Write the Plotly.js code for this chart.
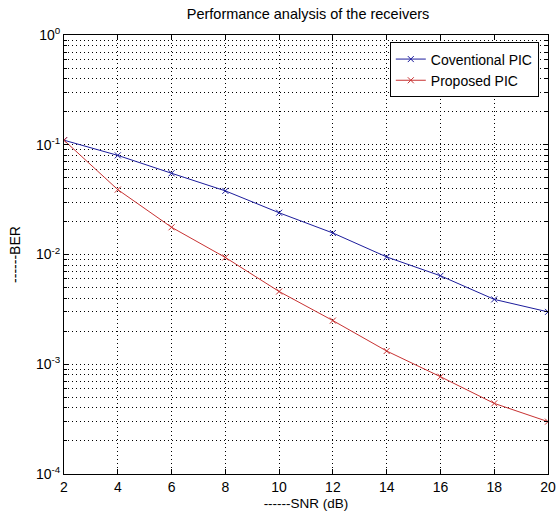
<!DOCTYPE html>
<html>
<head>
<meta charset="utf-8">
<script src="https://cdn.plot.ly/plotly-3.0.1.min.js"></script>
<style>html,body{margin:0;padding:0;background:#fff;}#chart{width:557px;height:525px;}</style>
</head>
<body>
<div id="chart"></div>
<script>
// Data
const snr = [2, 4, 6, 8, 10, 12, 14, 16, 18, 20];
const berConventional = [0.11, 0.080, 0.055, 0.038, 0.024, 0.0157, 0.0095, 0.0064, 0.0039, 0.0030];
const berProposed = [0.11, 0.039, 0.0177, 0.0094, 0.0046, 0.0025, 0.00132, 0.00077, 0.00044, 0.00030];
const xTicks = [2, 4, 6, 8, 10, 12, 14, 16, 18, 20];
const yMajorTicks = [1e-4, 1e-3, 1e-2, 1e-1, 1];
const yMajorLabels = ['10<sup>-4</sup>', '10<sup>-3</sup>', '10<sup>-2</sup>', '10<sup>-1</sup>', '10<sup>0</sup>'];
const yMinorTicks = [];
[1e-4, 1e-3, 1e-2, 1e-1].forEach(d => { for (let k = 2; k <= 9; k++) yMinorTicks.push(k * d); });

const fam = 'Liberation Sans, Arial, sans-serif';
const gridDash = '1px,3px';

const traces = [
  {x: snr, y: berConventional, name: 'Coventional PIC', mode: 'lines+markers',
   line: {color: '#1c1c9c', width: 1},
   marker: {symbol: 'x-thin', size: 6, line: {width: 1, color: '#1c1c9c'}}},
  {x: snr, y: berProposed, name: 'Proposed PIC', mode: 'lines+markers',
   line: {color: '#c83232', width: 1},
   marker: {symbol: 'x-thin', size: 6, line: {width: 1, color: '#c83232'}}}
];

const layout = {
  width: 557, height: 525,
  margin: {l: 64, r: 9, t: 35, b: 51},
  paper_bgcolor: '#fff', plot_bgcolor: '#fff',
  font: {family: fam, size: 14, color: '#000'},
  showlegend: true,
  title: {text: 'Performance analysis of the receivers', font: {family: fam, size: 14.5, color: '#000'},
          x: 0.553, xanchor: 'center', y: 0.974, yanchor: 'middle'},
  xaxis: {
    range: [2, 20], tickmode: 'array', tickvals: xTicks,
    ticks: 'inside', ticklen: 5, tickcolor: '#000', ticklabeloverflow: 'allow',
    showline: true, linecolor: '#000', linewidth: 1, mirror: 'ticks',
    showgrid: true, gridcolor: '#000', gridwidth: 1, griddash: gridDash,
    zeroline: false, tickfont: {family: fam, size: 14, color: '#000'},
    title: {text: '------SNR (dB)', font: {family: fam, size: 13.5, color: '#000'}, standoff: 4}
  },
  yaxis: {
    type: 'log', range: [-4, 0], tickmode: 'array', tickvals: yMajorTicks, ticktext: yMajorLabels,
    ticks: 'inside', ticklen: 5, tickcolor: '#000', ticklabeloverflow: 'allow',
    showline: true, linecolor: '#000', linewidth: 1, mirror: 'ticks',
    showgrid: true, gridcolor: '#000', gridwidth: 1, griddash: gridDash,
    zeroline: false, tickfont: {family: fam, size: 14, color: '#000'},
    minor: {tickmode: 'array', tickvals: yMinorTicks, ticks: 'inside', ticklen: 3, tickcolor: '#000',
            showgrid: true, gridcolor: '#000', gridwidth: 1, griddash: gridDash},
    title: {text: '------BER', font: {family: fam, size: 14, color: '#000'}, standoff: 12}
  },
  legend: {
    x: 0.981, y: 0.983, xanchor: 'right', yanchor: 'top',
    bgcolor: '#fff', bordercolor: '#000', borderwidth: 1,
    font: {family: fam, size: 14, color: '#000'},
    tracegroupgap: 0
  }
};

Plotly.newPlot('chart', traces, layout, {displayModeBar: false, staticPlot: true});
</script>
</body>
</html>
